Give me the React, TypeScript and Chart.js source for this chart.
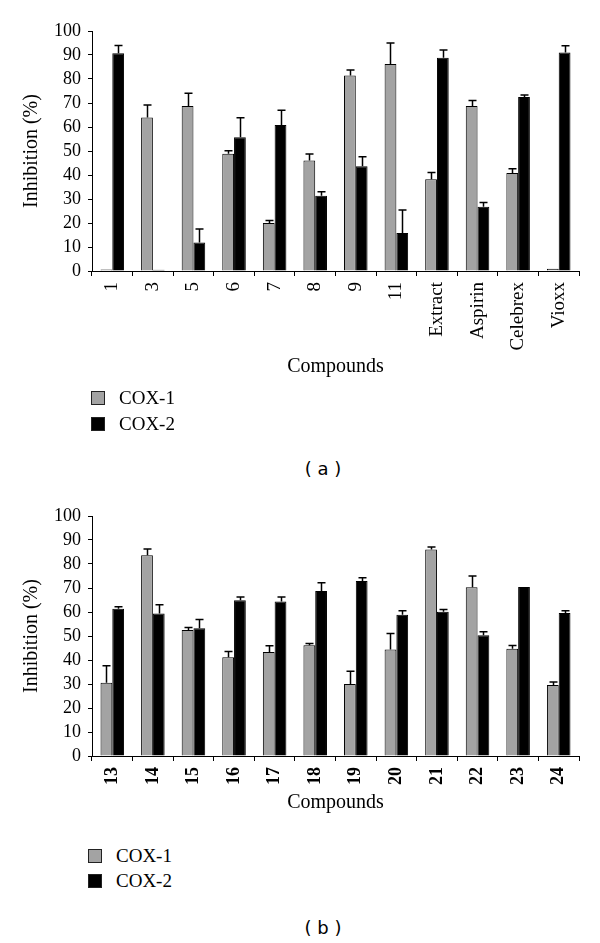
import React, { useEffect, useRef } from "react";
import { Chart, registerables } from "chart.js";

Chart.register(...registerables);

// ---------- Data ----------
const categoriesA = ["1", "3", "5", "6", "7", "8", "9", "11", "Extract", "Aspirin", "Celebrex", "Vioxx"];
const cox1A = [0.6, 64.0, 68.8, 48.9, 20.0, 46.0, 81.5, 86.3, 38.2, 68.8, 40.8, 0.9];
const cox1ErrA = [0, 5.2, 5.3, 1.2, 1.0, 2.7, 2.3, 8.7, 2.8, 2.2, 1.8, 0];
const cox2A = [90.7, 0.5, 11.9, 55.7, 60.8, 31.4, 43.6, 15.8, 88.9, 26.8, 72.5, 91.0];
const cox2ErrA = [3.3, 0, 5.6, 8.2, 6.2, 1.6, 4.0, 9.6, 3.2, 1.7, 0.8, 2.9];

const categoriesB = ["13", "14", "15", "16", "17", "18", "19", "20", "21", "22", "23", "24"];
const cox1B = [30.5, 83.6, 52.5, 41.1, 43.3, 46.1, 30.0, 44.4, 86.0, 70.3, 44.7, 29.6];
const cox1ErrB = [7.1, 2.7, 1.0, 2.4, 2.6, 0.8, 5.3, 6.6, 1.1, 4.7, 1.3, 1.2];
const cox2B = [61.4, 59.4, 53.2, 64.9, 64.4, 68.8, 72.9, 58.9, 60.1, 50.3, 70.4, 59.6];
const cox2ErrB = [0.8, 3.6, 3.7, 1.4, 1.8, 3.4, 1.4, 1.6, 0.9, 1.5, 0, 0.9];

const seriesNames = ["COX-1", "COX-2"];
const yTickStep = 10;
const yMin = 0;
const yMax = 100;
const yTitle = "Inhibition (%)";
const xTitle = "Compounds";

const GRAY = "#a3a3a3";
const BLACK = "#000000";
const SERIF = "'Liberation Serif', 'Times New Roman', serif";

const errorBarPlugin = {
  id: "errorBars",
  afterDatasetsDraw(chart: any) {
    const ctx = chart.ctx;
    const yScale = chart.scales.y;
    chart.data.datasets.forEach((ds: any, di: number) => {
      const meta = chart.getDatasetMeta(di);
      meta.data.forEach((bar: any, i: number) => {
        const err = ds.errors ? ds.errors[i] : 0;
        if (!err) return;
        const v = ds.data[i];
        const yTop = yScale.getPixelForValue(v + err);
        const x = Math.round(bar.x) + 0.5;
        ctx.save();
        ctx.strokeStyle = "#000";
        ctx.lineWidth = 1.5;
        ctx.beginPath();
        ctx.moveTo(x, bar.y);
        ctx.lineTo(x, yTop);
        ctx.moveTo(x - 4, yTop);
        ctx.lineTo(x + 4, yTop);
        ctx.stroke();
        ctx.restore();
      });
    });
  },
};

type PanelProps = {
  top: number;
  height: number;
  areaTop: number;
  areaBottom: number;
  labels: string[];
  c1: number[];
  e1: number[];
  c2: number[];
  e2: number[];
  boldX: boolean;
  xTitlePad: number;
};

function BarPanel(p: PanelProps) {
  const ref = useRef<HTMLCanvasElement | null>(null);
  useEffect(() => {
    if (!ref.current) return;
    const chart = new Chart(ref.current, {
      type: "bar",
      data: {
        labels: p.labels,
        datasets: [
          {
            label: seriesNames[0],
            data: p.c1,
            errors: p.e1,
            backgroundColor: GRAY,
            borderColor: BLACK,
            borderWidth: 1,
            categoryPercentage: 0.58,
            barPercentage: 1,
          } as any,
          {
            label: seriesNames[1],
            data: p.c2,
            errors: p.e2,
            backgroundColor: BLACK,
            borderColor: BLACK,
            borderWidth: 1,
            categoryPercentage: 0.58,
            barPercentage: 1,
          } as any,
        ],
      },
      options: {
        animation: false,
        responsive: false,
        maintainAspectRatio: false,
        layout: { padding: { left: 0, top: p.areaTop, right: 21, bottom: 0 } },
        plugins: { legend: { display: false }, tooltip: { enabled: false } },
        scales: {
          x: {
            offset: true,
            grid: {
              display: true,
              offset: true,
              drawOnChartArea: false,
              drawTicks: true,
              tickLength: 5,
              color: "#000",
              lineWidth: 1,
            },
            border: { display: true, color: "#000", width: 1 },
            ticks: {
              autoSkip: false,
              minRotation: 90,
              maxRotation: 90,
              padding: 6,
              color: "#000",
              font: { family: SERIF, size: p.boldX ? 18 : 19, weight: p.boldX ? "bold" : "normal" },
            },
            title: {
              display: true,
              text: xTitle,
              color: "#000",
              font: { family: SERIF, size: 20, lineHeight: 1.2 },
              padding: { top: 0, bottom: p.xTitlePad },
            },
            afterFit: (scale: any) => {
              scale.height = p.height - p.areaBottom;
            },
          },
          y: {
            min: yMin,
            max: yMax,
            grid: {
              display: true,
              drawOnChartArea: false,
              drawTicks: true,
              tickLength: 4,
              color: "#000",
              lineWidth: 1,
            },
            border: { display: true, color: "#000", width: 1 },
            ticks: {
              stepSize: yTickStep,
              autoSkip: false,
              padding: 7,
              color: "#000",
              font: { family: SERIF, size: 18, lineHeight: 1 },
            },
            title: {
              display: true,
              text: yTitle,
              color: "#000",
              font: { family: SERIF, size: 20, lineHeight: 1.2 },
              padding: { top: 20, bottom: 0 },
            },
            afterFit: (scale: any) => {
              scale.width = 92;
            },
          },
        },
      } as any,
      plugins: [errorBarPlugin],
    });
    return () => chart.destroy();
  }, []);
  return (
    <canvas
      ref={ref}
      width={600}
      height={p.height}
      style={{ position: "absolute", left: 0, top: p.top, width: 600, height: p.height, display: "block" }}
    />
  );
}

function Legend({ x, textX, y1, y2 }: { x: number; textX: number; y1: number; y2: number }) {
  const sq = (y: number, color: string): React.CSSProperties => ({
    position: "absolute",
    left: x,
    top: y - 7,
    width: 12,
    height: 12,
    background: color,
    border: "1px solid #222",
  });
  const txt = (y: number): React.CSSProperties => ({
    position: "absolute",
    left: textX,
    top: y - 10,
    fontFamily: SERIF,
    fontSize: 19,
    lineHeight: "20px",
    color: "#000",
    whiteSpace: "nowrap",
  });
  return (
    <>
      <div style={sq(y1, GRAY)} />
      <div style={txt(y1)}>{seriesNames[0]}</div>
      <div style={sq(y2, BLACK)} />
      <div style={txt(y2)}>{seriesNames[1]}</div>
    </>
  );
}

function Caption({ text, y }: { text: string; y: number }) {
  return (
    <div
      style={{
        position: "absolute",
        left: 223,
        width: 200,
        top: y - 10,
        textAlign: "center",
        fontFamily: "'DejaVu Sans', sans-serif",
        fontSize: 18,
        lineHeight: "20px",
        color: "#000",
        whiteSpace: "pre",
      }}
    >
      {text}
    </div>
  );
}

export default function App() {
  return (
    <div style={{ position: "absolute", left: 0, top: 0, width: 600, height: 943, background: "#fff", overflow: "hidden" }}>
      <BarPanel
        top={0}
        height={390}
        areaTop={31}
        areaBottom={271}
        labels={categoriesA}
        c1={cox1A}
        e1={cox1ErrA}
        c2={cox2A}
        e2={cox2ErrA}
        boldX={false}
        xTitlePad={11}
      />
      <Legend x={91} textX={119} y1={398} y2={424} />
      <Caption text="( a )" y={469} />
      <BarPanel
        top={480}
        height={360}
        areaTop={36}
        areaBottom={276}
        labels={categoriesB}
        c1={cox1B}
        e1={cox1ErrB}
        c2={cox2B}
        e2={cox2ErrB}
        boldX={true}
        xTitlePad={25}
      />
      <Legend x={88} textX={116} y1={856} y2={881} />
      <Caption text="( b )" y={928} />
    </div>
  );
}
